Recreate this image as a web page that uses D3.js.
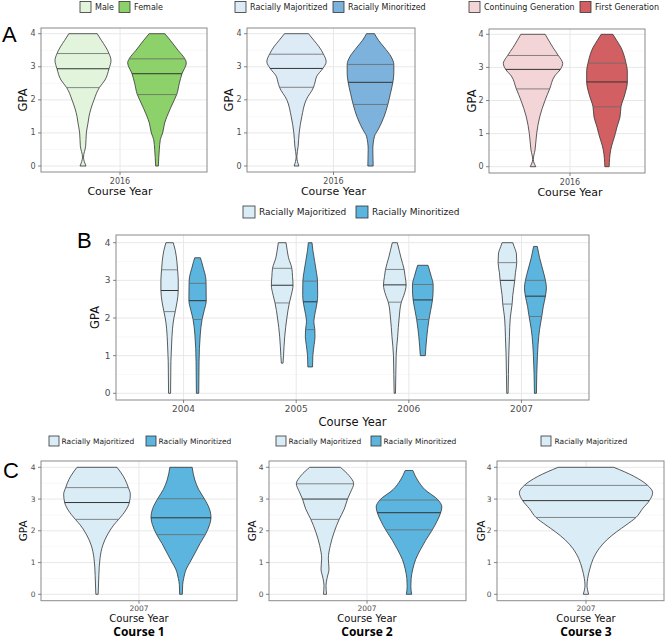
<!DOCTYPE html>
<html><head><meta charset="utf-8">
<script src="https://cdn.jsdelivr.net/npm/d3@7"></script>
<style>body{margin:0;background:#fff} svg{display:block}</style>
</head><body>
<svg id="chart" width="667" height="640"></svg>
<script>
// ---------------- DATA ----------------
const gpaTicks = [0, 1, 2, 3, 4];
const gpaMinor = [0.5, 1.5, 2.5, 3.5];
const yearA = ["2016"];
const yearsB = ["2004", "2005", "2006", "2007"];
const yearC = ["2007"];
const sexGroups = ["Male", "Female"];
const raceGroups = ["Racially Majoritized", "Racially Minoritized"];
const genGroups = ["Continuing Generation", "First Generation"];
const majOnly = ["Racially Majoritized"];
const courseLabels = ["Course 1", "Course 2", "Course 3"];

// violin outlines: [GPA, relative density (half width)]
const maleDens = [[0,0.09],[0.27,0.015],[0.6,0.08],[1.0,0.1],[1.3,0.15],[1.5,0.18],[2.0,0.33],[2.37,0.49],[2.6,0.66],[2.94,0.78],[3.19,0.84],[3.4,0.78],[3.6,0.68],[3.8,0.55],[4.0,0.425]];
const femaleDens = [[0,0.04],[0.5,0.07],[0.8,0.1],[1.0,0.17],[1.3,0.23],[1.5,0.3],[2.0,0.52],[2.16,0.59],[2.5,0.67],[2.79,0.75],[3.12,0.88],[3.24,0.835],[3.5,0.63],[3.8,0.4],[4.0,0.235]];
const a2MajDens = [[0,0.07],[0.28,0.01],[0.6,0.05],[1.0,0.08],[1.5,0.16],[2.0,0.29],[2.38,0.51],[2.55,0.56],[2.7,0.6],[2.95,0.79],[3.15,0.89],[3.4,0.8],[3.6,0.68],[3.8,0.52],[4.0,0.36]];
const a2MinDens = [[0,0.08],[0.5,0.07],[0.9,0.12],[1.1,0.23],[1.5,0.41],[1.86,0.52],[2.2,0.6],[2.53,0.67],[2.8,0.7],[3.07,0.7],[3.3,0.62],[3.6,0.4],[3.8,0.24],[4.0,0.12]];
const contDens = [[0,0.085],[0.22,0.01],[0.5,0.06],[1.0,0.11],[1.5,0.2],[2.0,0.36],[2.35,0.5],[2.74,0.65],[2.94,0.82],[3.12,0.89],[3.36,0.76],[3.6,0.6],[3.8,0.48],[4.0,0.365]];
const firstDens = [[0,0.065],[0.5,0.11],[1.0,0.25],[1.2,0.3],[1.5,0.39],[1.81,0.42],[2.2,0.54],[2.56,0.61],[2.9,0.61],[3.13,0.57],[3.4,0.5],[3.6,0.42],[3.8,0.3],[4.0,0.175]];

const b04MajDens = [[0,0.03],[0.84,0.04],[1.28,0.06],[1.73,0.09],[2.0,0.13],[2.17,0.17],[2.4,0.22],[2.73,0.26],[3.0,0.26],[3.28,0.24],[3.5,0.22],[3.8,0.17],[4.0,0.11]];
const b04MinDens = [[0,0.035],[0.84,0.045],[1.55,0.08],[1.96,0.135],[2.2,0.2],[2.46,0.26],[2.92,0.255],[3.1,0.24],[3.3,0.18],[3.5,0.12],[3.6,0.085]];
const b05MajDens = [[0.8,0.025],[1.0,0.04],[1.5,0.075],[2.0,0.14],[2.4,0.215],[2.6,0.27],[2.87,0.325],[3.1,0.31],[3.32,0.29],[3.6,0.19],[3.8,0.15],[4.0,0.115]];
const b05MinDens = [[0.7,0.07],[1.0,0.08],[1.3,0.12],[1.5,0.145],[1.69,0.14],[1.9,0.11],[2.1,0.14],[2.43,0.21],[2.6,0.225],[2.98,0.22],[3.2,0.19],[3.5,0.135],[3.8,0.08],[4.0,0.055]];
const b06MajDens = [[0,0.02],[0.5,0.03],[1.0,0.04],[1.5,0.085],[2.0,0.13],[2.42,0.195],[2.6,0.27],[2.88,0.34],[3.1,0.31],[3.29,0.28],[3.6,0.185],[3.8,0.13],[4.0,0.075]];
const b06MinDens = [[1.0,0.075],[1.5,0.12],[1.96,0.185],[2.2,0.235],[2.48,0.29],[2.75,0.31],[2.89,0.31],[3.1,0.255],[3.3,0.19],[3.4,0.155]];
const b07MajDens = [[0,0.02],[0.5,0.03],[1.0,0.04],[1.5,0.06],[2.0,0.085],[2.37,0.14],[2.6,0.16],[3.0,0.22],[3.2,0.24],[3.47,0.28],[3.7,0.27],[3.9,0.2],[4.0,0.16]];
const b07MinDens = [[0,0.03],[0.5,0.04],[1.0,0.06],[1.3,0.08],[1.7,0.125],[2.04,0.19],[2.3,0.235],[2.58,0.3],[2.8,0.33],[3.0,0.3],[3.3,0.215],[3.6,0.125],[3.9,0.055]];

const c1MajDens = [[0,0.035],[0.6,0.055],[1.13,0.09],[1.55,0.175],[1.87,0.31],[2.18,0.5],[2.36,0.65],[2.66,0.87],[2.89,0.97],[3.15,1.0],[3.36,0.94],[3.7,0.8],[4.0,0.6]];
const c1MinDens = [[0,0.04],[0.3,0.05],[0.5,0.08],[0.8,0.16],[1.0,0.265],[1.3,0.42],[1.6,0.57],[1.88,0.73],[2.2,0.86],[2.41,0.9],[2.7,0.85],[3.01,0.7],[3.3,0.53],[3.6,0.415],[4.0,0.335]];
const c2MajDens = [[0,0.045],[0.28,0.03],[0.5,0.06],[0.8,0.12],[1.12,0.1],[1.54,0.16],[1.96,0.275],[2.36,0.425],[2.69,0.58],[3.0,0.675],[3.25,0.78],[3.48,0.86],[3.74,0.72],[4.0,0.46]];
const c2MinDens = [[0,0.08],[0.25,0.055],[0.5,0.065],[0.8,0.115],[1.1,0.2],[1.4,0.34],[1.7,0.5],[2.03,0.7],[2.3,0.84],[2.57,0.95],[2.75,0.985],[2.97,0.875],[3.3,0.475],[3.6,0.255],[3.9,0.115]];
const c3MajDens = [[0,0.08],[0.29,0.03],[0.5,0.05],[0.82,0.12],[1.13,0.22],[1.45,0.4],[1.71,0.62],[1.97,0.92],[2.18,1.2],[2.42,1.5],[2.7,1.7],[2.95,1.9],[3.2,2.0],[3.43,1.85],[3.71,1.45],[4.0,0.835]];

// quartiles [25%, 50%, 75%]
const maleQ = [2.37, 2.94, 3.40], femaleQ = [2.16, 2.79, 3.24];
const a2MajQ = [2.38, 2.95, 3.38], a2MinQ = [1.86, 2.53, 3.07];
const contQ = [2.35, 2.94, 3.36], firstQ = [1.81, 2.56, 3.13];
const b04MajQ = [2.17, 2.73, 3.28], b04MinQ = [1.96, 2.46, 2.92];
const b05MajQ = [2.40, 2.87, 3.32], b05MinQ = [1.69, 2.43, 2.98];
const b06MajQ = [2.42, 2.88, 3.29], b06MinQ = [1.96, 2.48, 2.89];
const b07MajQ = [2.37, 3.00, 3.47], b07MinQ = [2.04, 2.58, 3.00];
const c1MajQ = [2.36, 2.89, 3.36], c1MinQ = [1.88, 2.41, 3.01];
const c2MajQ = [2.36, 3.00, 3.48], c2MinQ = [2.03, 2.57, 2.97];
const c3MajQ = [2.42, 2.95, 3.43];

// colours
const sexColors = ["#e2f4dc", "#8dd16a"];
const raceColorsA = ["#ddebf7", "#7db2dc"];
const genColors = ["#f3d5d8", "#d26062"];
const raceColorsBC = ["#daedf7", "#5cb5de"];

// ---------------- DRAWING ----------------
const svg = d3.select("#chart");
const FONT = "'DejaVu Sans', sans-serif";
const wScale = d3.scaleLinear().domain([0, 1]).range([0, 100 / 3]);

function drawLegend(items, colors, yc, boxes, box, gap, fs) {
  const g = svg.append("g");
  items.forEach((name, i) => {
    g.append("rect").attr("x", boxes[i]).attr("y", yc - box / 2).attr("width", box).attr("height", box)
      .attr("fill", colors[i]).attr("stroke", "#333").attr("stroke-width", 0.8);
    g.append("text").attr("x", boxes[i] + box + gap).attr("y", yc).attr("dominant-baseline", "central")
      .attr("font-family", FONT).attr("font-size", fs).attr("fill", "#222").text(name);
  });
}

function drawPanel(p) {
  const g = svg.append("g");
  const { l, t, r, b } = p.rect;
  const y = d3.scaleLinear().domain([0, 4]).range(p.yRange);
  const x = d3.scalePoint().domain(p.cats).range(p.xRange).padding(p.pad);
  const dx = d3.scalePoint().domain(p.groups).range([-p.dodge, p.dodge]).padding(p.groups.length === 1 ? 0.5 : 0);
  const color = d3.scaleOrdinal().domain(p.groups).range(p.colors);

  g.append("rect").attr("x", l).attr("y", t).attr("width", r - l).attr("height", b - t).attr("fill", "#fff");
  g.selectAll(".mn").data(gpaMinor).join("line")
    .attr("x1", l).attr("x2", r).attr("y1", d => y(d)).attr("y2", d => y(d))
    .attr("stroke", "#f3f3f3").attr("stroke-width", 0.6);
  g.selectAll(".mj").data(gpaTicks).join("line")
    .attr("x1", l).attr("x2", r).attr("y1", d => y(d)).attr("y2", d => y(d))
    .attr("stroke", "#e8e8e8").attr("stroke-width", 1);
  g.selectAll(".vx").data(p.cats).join("line")
    .attr("x1", d => x(d)).attr("x2", d => x(d)).attr("y1", t).attr("y2", b)
    .attr("stroke", "#e8e8e8").attr("stroke-width", 1);

  p.violins.forEach(v => {
    const cx = x(v.cat) + dx(v.group);
    const area = d3.area().curve(d3.curveMonotoneY)
      .y(d => y(d[0]))
      .x0(d => cx - wScale(d[1]))
      .x1(d => cx + wScale(d[1]));
    g.append("path").attr("d", area(v.dens)).attr("fill", color(v.group))
      .attr("stroke", "#333").attr("stroke-width", 0.8).attr("stroke-linejoin", "round");
    const interp = d3.scaleLinear().domain(v.dens.map(d => d[0])).range(v.dens.map(d => d[1]));
    v.q.forEach((qv, i) => {
      const hw = wScale(interp(qv));
      g.append("line").attr("x1", cx - hw).attr("x2", cx + hw).attr("y1", y(qv)).attr("y2", y(qv))
        .attr("stroke", i === 1 ? "#333" : "#6a6a6a").attr("stroke-width", i === 1 ? 1 : 0.8);
    });
  });

  g.append("rect").attr("x", l).attr("y", t).attr("width", r - l).attr("height", b - t)
    .attr("fill", "none").attr("stroke", "#8a8a8a").attr("stroke-width", 1);

  // y axis
  g.selectAll(".yt").data(gpaTicks).join("line")
    .attr("x1", l - 3).attr("x2", l).attr("y1", d => y(d)).attr("y2", d => y(d))
    .attr("stroke", "#666").attr("stroke-width", 0.8);
  g.selectAll(".yl").data(gpaTicks).join("text")
    .attr("x", l - 5.5).attr("y", d => y(d)).attr("text-anchor", "end").attr("dominant-baseline", "central")
    .attr("font-family", FONT).attr("font-size", p.tickFs).attr("fill", "#4d4d4d").text(d => d);
  // x axis
  g.selectAll(".xt").data(p.cats).join("line")
    .attr("x1", d => x(d)).attr("x2", d => x(d)).attr("y1", b).attr("y2", b + 3)
    .attr("stroke", "#666").attr("stroke-width", 0.8);
  g.selectAll(".xl").data(p.cats).join("text")
    .attr("x", d => x(d)).attr("y", b + p.xLabDy).attr("text-anchor", "middle")
    .attr("font-family", FONT).attr("font-size", p.tickFs).attr("fill", "#4d4d4d").text(d => d);

  const midX = (p.xRange[0] + p.xRange[1]) / 2;
  g.append("text").attr("x", midX).attr("y", b + p.titleDy).attr("text-anchor", "middle")
    .attr("font-family", FONT).attr("font-size", p.titleFs).attr("fill", "#111").text("Course Year");
  g.append("text").attr("transform", `translate(${p.gpaX},${(t + b) / 2}) rotate(-90)`)
    .attr("text-anchor", "middle").attr("dominant-baseline", "central")
    .attr("font-family", FONT).attr("font-size", p.gpaFs).attr("fill", "#111").text("GPA");
  if (p.caption) {
    g.append("text").attr("x", midX).attr("y", 636).attr("text-anchor", "middle")
      .attr("font-family", "'Open Sans', sans-serif").attr("font-weight", 700).attr("font-size", 12)
      .attr("fill", "#000").text(p.caption);
  }
}

const aBase = { yRange: [166, 33.7], pad: 0.5, dodge: 37, tickFs: 8, xLabDy: 11.5, titleDy: 23, titleFs: 11, gpaFs: 11.5 };
drawPanel(Object.assign({}, aBase, { rect: { l: 41, t: 28, r: 207, b: 172 }, xRange: [41, 199], cats: yearA, groups: sexGroups, colors: sexColors, gpaX: 23,
  violins: [{ cat: "2016", group: "Male", dens: maleDens, q: maleQ }, { cat: "2016", group: "Female", dens: femaleDens, q: femaleQ }] }));
drawPanel(Object.assign({}, aBase, { rect: { l: 247, t: 28, r: 415, b: 172 }, xRange: [247, 420], cats: yearA, groups: raceGroups, colors: raceColorsA, gpaX: 229,
  violins: [{ cat: "2016", group: raceGroups[0], dens: a2MajDens, q: a2MajQ }, { cat: "2016", group: raceGroups[1], dens: a2MinDens, q: a2MinQ }] }));
drawPanel(Object.assign({}, aBase, { rect: { l: 489, t: 29, r: 645, b: 173 }, yRange: [166.7, 34.3], xRange: [489, 651], cats: yearA, groups: genGroups, colors: genColors, gpaX: 472,
  violins: [{ cat: "2016", group: genGroups[0], dens: contDens, q: contQ }, { cat: "2016", group: genGroups[1], dens: firstDens, q: firstQ }] }));

drawPanel({ rect: { l: 116, t: 235, r: 589, b: 400 }, yRange: [393.3, 242.7], xRange: [116, 589], pad: 0.6, dodge: 14,
  cats: yearsB, groups: raceGroups, colors: raceColorsBC, tickFs: 9, xLabDy: 12, titleDy: 26, titleFs: 11.5, gpaFs: 11.5, gpaX: 95,
  violins: [
    { cat: "2004", group: raceGroups[0], dens: b04MajDens, q: b04MajQ }, { cat: "2004", group: raceGroups[1], dens: b04MinDens, q: b04MinQ },
    { cat: "2005", group: raceGroups[0], dens: b05MajDens, q: b05MajQ }, { cat: "2005", group: raceGroups[1], dens: b05MinDens, q: b05MinQ },
    { cat: "2006", group: raceGroups[0], dens: b06MajDens, q: b06MajQ }, { cat: "2006", group: raceGroups[1], dens: b06MinDens, q: b06MinQ },
    { cat: "2007", group: raceGroups[0], dens: b07MajDens, q: b07MajQ }, { cat: "2007", group: raceGroups[1], dens: b07MinDens, q: b07MinQ }] });

const cBase = { yRange: [594.3, 467.3], pad: 0.5, dodge: 42, tickFs: 7.5, xLabDy: 10.5, titleDy: 21.5, titleFs: 10, gpaFs: 10.5 };
drawPanel(Object.assign({}, cBase, { rect: { l: 41, t: 461, r: 237, b: 600.7 }, xRange: [41, 237], cats: yearC, groups: raceGroups, colors: raceColorsBC, gpaX: 23, caption: courseLabels[0],
  violins: [{ cat: "2007", group: raceGroups[0], dens: c1MajDens, q: c1MajQ }, { cat: "2007", group: raceGroups[1], dens: c1MinDens, q: c1MinQ }] }));
drawPanel(Object.assign({}, cBase, { rect: { l: 269, t: 461, r: 466, b: 600.7 }, xRange: [269, 465], cats: yearC, groups: raceGroups, colors: raceColorsBC, gpaX: 252, caption: courseLabels[1],
  violins: [{ cat: "2007", group: raceGroups[0], dens: c2MajDens, q: c2MajQ }, { cat: "2007", group: raceGroups[1], dens: c2MinDens, q: c2MinQ }] }));
drawPanel(Object.assign({}, cBase, { rect: { l: 497, t: 461, r: 664, b: 600.7 }, xRange: [497, 675], cats: yearC, groups: majOnly, colors: [raceColorsBC[0]], gpaX: 481, caption: courseLabels[2],
  violins: [{ cat: "2007", group: majOnly[0], dens: c3MajDens, q: c3MajQ }] }));

// legends
drawLegend(sexGroups, sexColors, 7, [80, 119], 11, 4, 8);
drawLegend(raceGroups, raceColorsA, 7, [235, 333], 11, 4, 8);
drawLegend(genGroups, genColors, 7, [469, 580], 11, 4, 8);
drawLegend(raceGroups, raceColorsBC, 212, [243, 356], 12, 4, 9);
drawLegend(raceGroups, raceColorsBC, 441, [49, 146], 10, 2.5, 7.5);
drawLegend(raceGroups, raceColorsBC, 441, [276, 371], 10, 2.5, 7.5);
drawLegend(majOnly, raceColorsBC, 441, [541], 10, 3.5, 7.5);

// panel letters
[["A", 2, 42], ["B", 77, 248], ["C", 3, 478]].forEach(([s, lx, ly]) => {
  svg.append("text").attr("x", lx).attr("y", ly).attr("font-family", "'Liberation Sans', Arial, sans-serif")
    .attr("font-size", 22).attr("fill", "#000").text(s);
});
</script>
</body></html>
